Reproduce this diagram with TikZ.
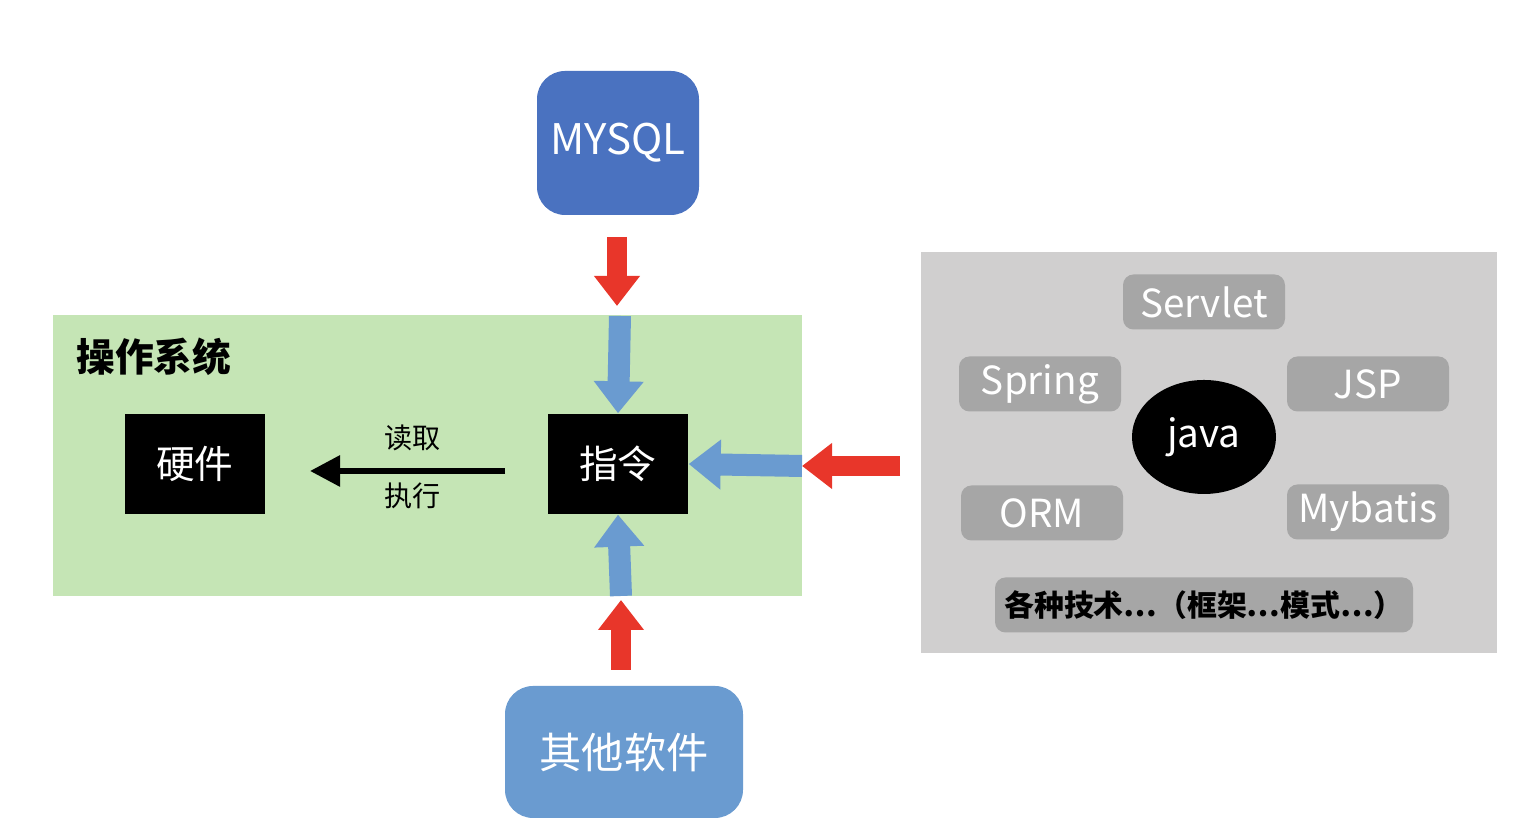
\documentclass[tikz,border=0pt]{standalone}
\usepackage{fontspec}
\setmainfont{Noto Sans CJK SC}
\usetikzlibrary{arrows.meta,shapes.geometric}
\definecolor{mysqlblue}{HTML}{4A72C0}
\definecolor{softblue}{HTML}{6A9BD0}
\definecolor{arrowblue}{HTML}{6A9BD0}
\definecolor{arrowred}{HTML}{E8362A}
\definecolor{osgreen}{HTML}{C5E5B5}
\definecolor{techgray}{HTML}{D0CFCF}
\definecolor{tagbg}{HTML}{A6A6A6}
\begin{document}
\begin{tikzpicture}

      % Define styles
      \tikzstyle{blackbox}=[rectangle, fill=black, text=white, minimum width=1.4cm, minimum height=1cm, inner sep=0pt, font=\fontsize{11}{13}\selectfont]
      \tikzstyle{tag}=[rectangle, rounded corners=3pt, fill=tagbg, text=white, minimum width=1.62cm, minimum height=0.55cm, inner sep=0pt, font=\fontsize{11}{13}\selectfont]
      \tikzstyle{redarrow}=[draw=arrowred, line width=0.2cm, -{Triangle[width=0.44cm, length=0.3cm]}]
      \tikzstyle{bluearrow}=[draw=arrowblue, line width=0.22cm, -{Triangle[width=0.48cm, length=0.32cm]}]

      \useasboundingbox (0,0) rectangle (15.14,8.32);

      % Background areas
      \fill[osgreen] (0.53,2.36) rectangle (8.02,5.17);
      \fill[techgray] (9.21,1.79) rectangle (14.97,5.80);

      % MYSQL
      \node[rectangle, rounded corners=8pt, fill=mysqlblue, text=white, minimum width=1.62cm, minimum height=1.44cm, font=\fontsize{12}{14}\selectfont] (mysql) at (6.18,6.89) {MYSQL};

      % Other software
      \node[rectangle, rounded corners=8pt, fill=softblue, text=white, minimum width=2.38cm, minimum height=1.32cm, font=\fontsize{12}{14}\selectfont] (other) at (6.24,0.80) {其他软件};

      % Operating system
      \node[font=\fontsize{11}{13}\selectfont\bfseries] (os) at (1.54,4.75) {操作系统};
      \node[blackbox] (hw) at (1.95,3.68) {硬件};
      \node[blackbox] (cmd) at (6.18,3.68) {指令};

      % Read / execute
      \coordinate (rs) at (5.05,3.61);
      \coordinate (re) at (3.10,3.61);
      \draw[line width=0.06cm, -{Triangle[width=0.3cm, length=0.3cm]}] (rs) -- (re);
      \node[font=\fontsize{8}{10}\selectfont] (read) at (4.13,3.94) {读取};
      \node[font=\fontsize{8}{10}\selectfont] (exec) at (4.13,3.36) {执行};

      % Arrows from top
      \coordinate (t1) at (6.17,5.95);
      \coordinate (t2) at (6.17,5.26);
      \coordinate (t3) at (6.20,5.16);
      \draw[redarrow] (t1) -- (t2);
      \draw[bluearrow] (t3) -- (cmd.north);

      % Arrows from right
      \coordinate (r1) at (9.00,3.66);
      \coordinate (r2) at (8.02,3.66);
      \draw[redarrow] (r1) -- (r2);
      \draw[bluearrow] (r2) -- (cmd.east);

      % Arrows from bottom
      \coordinate (b1) at (6.21,1.62);
      \coordinate (b2) at (6.21,2.32);
      \coordinate (b3) at (6.21,2.36);
      \draw[redarrow] (b1) -- (b2);
      \draw[bluearrow] (b3) -- (cmd.south);

      % Techniques
      \node[ellipse, fill=black, text=white, minimum width=1.44cm, minimum height=1.14cm, inner sep=0pt, font=\fontsize{11}{13}\selectfont] (java) at (12.04,3.95) {java};
      \node[tag] (servlet) at (12.04,5.30) {Servlet};
      \node[tag] (spring) at (10.40,4.48) {Spring};
      \node[tag] (jsp) at (13.68,4.48) {JSP};
      \node[tag] (orm) at (10.42,3.19) {ORM};
      \node[tag] (mybatis) at (13.68,3.20) {Mybatis};
      \node[tag, minimum width=4.18cm, text=black, font=\fontsize{8.5}{10}\selectfont\bfseries] (misc) at (12.04,2.27) {各种技术…（框架…模式…）};

\end{tikzpicture}
\end{document}
